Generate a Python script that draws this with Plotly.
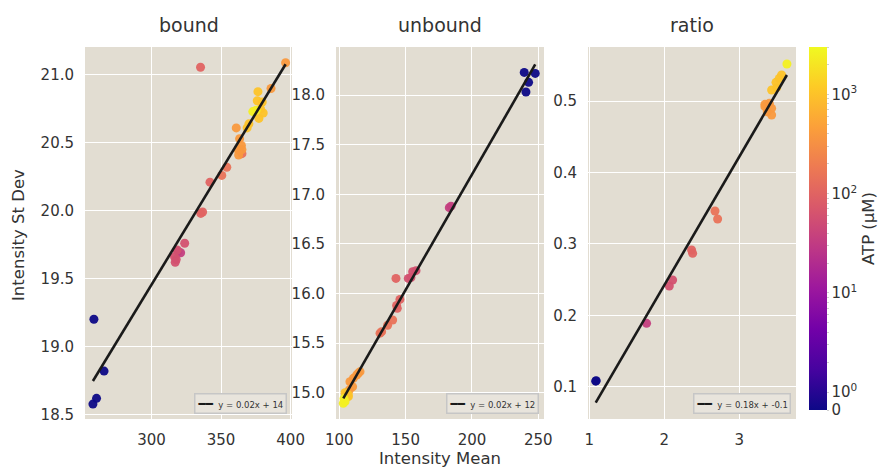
import math
import numpy as np
import plotly.graph_objects as go

# ---- data -------------------------------------------------------------
bound_mean = [258.5, 257.8, 260.4, 265.8,
              320.9, 319.0,
              318.4, 316.5, 317.7, 317.0, 323.8,
              335.4, 336.7, 342.0, 335.2,
              350.5, 354.1, 365.0,
              360.9, 363.3, 364.6, 362.1, 365.0, 362.6, 385.9, 396.4,
              376.0, 379.6, 378.4, 380.3, 377.2, 370.0, 368.7, 376.5,
              372.8, 375.2]
bound_sd = [19.20, 18.575, 18.617, 18.818,
            19.69, 19.70,
            19.71, 19.66, 19.64, 19.62, 19.76,
            19.98, 19.99, 20.21, 21.057,
            20.26, 20.32, 20.42,
            20.61, 20.53, 20.48, 20.45, 20.45, 20.41, 20.90, 21.09,
            20.81, 20.80, 20.75, 20.72, 20.68, 20.64, 20.61, 20.877,
            20.73, 20.74]
bound_atp = [0] * 4 + [35] * 2 + [60] * 5 + [100] * 4 + [150] * 3 + [400] * 8 + [1000] * 8 + [2500] * 2

unbound_mean = [239.4, 247.7, 242.7, 240.7,
                182.9, 184.2,
                152.0, 155.3, 157.8, 154.0,
                142.7, 145.7, 143.2, 143.7,
                140.2, 136.4, 131.9, 130.7,
                115.6, 114.3, 113.1, 110.6, 108.0, 110.0, 107.5,
                105.5, 106.8, 104.3, 106.8,
                103.0, 103.5, 104.3]
unbound_sd = [18.228, 18.218, 18.128, 18.03,
              16.865, 16.88,
              16.152, 16.22, 16.23, 16.16,
              16.152, 15.94, 15.88, 15.85,
              15.733, 15.68, 15.615, 15.60,
              15.212, 15.196, 15.178, 15.145, 15.11, 15.06, 15.027,
              14.993, 14.96, 15.0, 14.977,
              14.893, 14.94, 14.91]
unbound_atp = [0] * 4 + [35] * 2 + [60] * 4 + [100] * 4 + [150] * 4 + [400] * 7 + [1000] * 4 + [2500] * 3

ratio_mean = [1.086, 1.092,
              1.764,
              2.111, 2.067,
              2.364, 2.378,
              2.676, 2.711,
              3.342, 3.400, 3.431, 3.373, 3.431, 3.342,
              3.431, 3.498, 3.489, 3.533, 3.564,
              3.635]
ratio_sd = [0.1078, 0.1085,
            0.1887,
            0.2494, 0.2410,
            0.2914, 0.2867,
            0.3460, 0.3348,
            0.4953, 0.4967, 0.4897, 0.4850, 0.4804, 0.4921,
            0.5154, 0.5187, 0.5261, 0.5317, 0.5364,
            0.5518]
ratio_atp = [0] * 2 + [35] + [60] * 2 + [100] * 2 + [150] * 2 + [400] * 6 + [1000] * 5 + [2500]

panel_titles = ["bound", "unbound", "ratio"]
atp_max = 3000
cbar_major = [0, 1, 10, 100, 1000]
cbar_major_text = ["0", "10<sup>0</sup>", "10<sup>1</sup>", "10<sup>2</sup>", "10<sup>3</sup>"]

# ---- helpers ----------------------------------------------------------
LIN = 0.18  # width (in decades) of the linear part of the symlog colour scale


def symlog(v):
    v = np.asarray(v, dtype=float)
    return np.where(v <= 1, v * LIN, LIN + np.log10(np.maximum(v, 1)))


def fmt_intercept(b):
    # whole numbers for large offsets, one decimal for small ones (truncated)
    d = 0 if abs(b) >= 1 else 1
    t = math.trunc(b * 10 ** d) / 10 ** d
    return f"{t:.{d}f}"


W, H = 880, 470
BG = "#e2ddd2"
TXT = "#333333"
FONT = "DejaVu Sans"

x_px = [(85, 292), (336, 544), (588, 796)]
y_px = (47, 419)
x_ranges = [[252.1, 401.0], [97.5, 254.3], [0.983, 3.756]]
y_ranges = [[18.465, 21.206], [14.735, 18.484], [0.0548, 0.5756]]
x_ticks = [[300, 350, 400], [100, 150, 200, 250], [1, 2, 3]]
y_ticks = [[18.5, 19.0, 19.5, 20.0, 20.5, 21.0],
           [15.0, 15.5, 16.0, 16.5, 17.0, 17.5, 18.0],
           [0.1, 0.2, 0.3, 0.4, 0.5]]

panels = [(bound_mean, bound_sd, bound_atp),
          (unbound_mean, unbound_sd, unbound_atp),
          (ratio_mean, ratio_sd, ratio_atp)]

fig = go.Figure()
layout = {}
shapes = []
annotations = []
for i, (xs, ys, atp) in enumerate(panels):
    n = "" if i == 0 else str(i + 1)
    xa, ya = "x" + n, "y" + n
    fig.add_trace(go.Scatter(
        x=xs, y=ys, xaxis=xa, yaxis=ya, mode="markers",
        marker=dict(size=9, color=symlog(atp), coloraxis="coloraxis", opacity=0.95,
                    line=dict(width=0)),
        showlegend=False, hoverinfo="skip"))

    # least-squares trend line across the span of the data
    m, b = np.polyfit(xs, ys, 1)
    xl = np.array([min(xs), max(xs)])
    fig.add_trace(go.Scatter(
        x=xl, y=m * xl + b, xaxis=xa, yaxis=ya, mode="lines",
        line=dict(color="#1a1a1a", width=2.6), showlegend=False, hoverinfo="skip"))

    x0, x1 = x_px[i]
    axis_common = dict(
        showgrid=True, gridcolor="white", gridwidth=1.3, zeroline=False,
        showline=False, ticks="outside", ticklen=7, tickcolor="rgba(0,0,0,0)",
        tickfont=dict(size=15, color=TXT, family=FONT), automargin=False)
    layout["xaxis" + n] = dict(domain=[x0 / W, x1 / W], anchor=ya, range=x_ranges[i],
                               tickvals=x_ticks[i], **axis_common)
    layout["yaxis" + n] = dict(domain=[1 - y_px[1] / H, 1 - y_px[0] / H], anchor=xa,
                               range=y_ranges[i], tickvals=y_ticks[i], tickformat=".1f",
                               **axis_common)

    shapes.append(dict(type="rect", xref=xa + " domain", yref=ya + " domain",
                       x0=0, x1=1, y0=0, y1=1, fillcolor=BG, line=dict(width=0),
                       layer="below"))
    annotations.append(dict(text=panel_titles[i], x=(x0 + x1) / 2 / W, y=1 - 25 / H,
                            xref="paper", yref="paper", showarrow=False,
                            font=dict(size=19, color=TXT, family=FONT),
                            xanchor="center", yanchor="middle"))
    # fit key in the lower-right corner of each panel
    key = (f"<span style='font-size:12px;color:#1a1a1a'><b>━━</b></span>"
           f"  y = {m:.2f}x + {fmt_intercept(b)}")
    annotations.append(dict(text=key, x=(x1 - 5) / W, y=1 - (y_px[1] - 5) / H,
                            xref="paper", yref="paper", showarrow=False,
                            xanchor="right", yanchor="bottom",
                            font=dict(size=8.5, color=TXT, family=FONT),
                            bgcolor="#e8e4dc", bordercolor="#c6c6c6", borderwidth=1.5,
                            borderpad=2))

annotations.append(dict(text="Intensity Mean", x=(x_px[1][0] + x_px[1][1]) / 2 / W,
                        y=1 - 458 / H, xref="paper", yref="paper", showarrow=False,
                        font=dict(size=16.5, color=TXT, family=FONT),
                        xanchor="center", yanchor="middle"))
annotations.append(dict(text="Intensity St Dev", x=18 / W, y=1 - 235 / H,
                        xref="paper", yref="paper", showarrow=False, textangle=-90,
                        font=dict(size=16.5, color=TXT, family=FONT),
                        xanchor="center", yanchor="middle"))

# colour bar ticks: labelled decades plus unlabelled minor positions
minor = [k * 10 ** d for d in range(0, 4) for k in range(2, 10) if k * 10 ** d <= atp_max]
cb_vals = list(symlog(cbar_major)) + list(symlog(minor))
cb_text = cbar_major_text + [""] * len(minor)

fig.update_layout(
    width=W, height=H, margin=dict(l=0, r=0, t=0, b=0),
    paper_bgcolor="white", plot_bgcolor=BG,
    font=dict(family=FONT, color=TXT),
    shapes=shapes, annotations=annotations,
    coloraxis=dict(
        colorscale="Plasma", cmin=0, cmax=float(symlog(atp_max)),
        colorbar=dict(
            x=809 / W, xanchor="left", y=1 - 47 / H, yanchor="top",
            len=(410 - 47) / H, lenmode="fraction", thickness=18,
            xpad=0, ypad=0, outlinewidth=0, tickvals=cb_vals, ticktext=cb_text,
            ticks="outside", ticklen=2, tickwidth=1, tickcolor="#d0d0d0",
            tickfont=dict(size=15, color=TXT, family=FONT),
            title=dict(text="ATP (μM)", side="right",
                       font=dict(size=16.5, color=TXT, family=FONT)))),
    **layout)

fig.write_html("out.html")
